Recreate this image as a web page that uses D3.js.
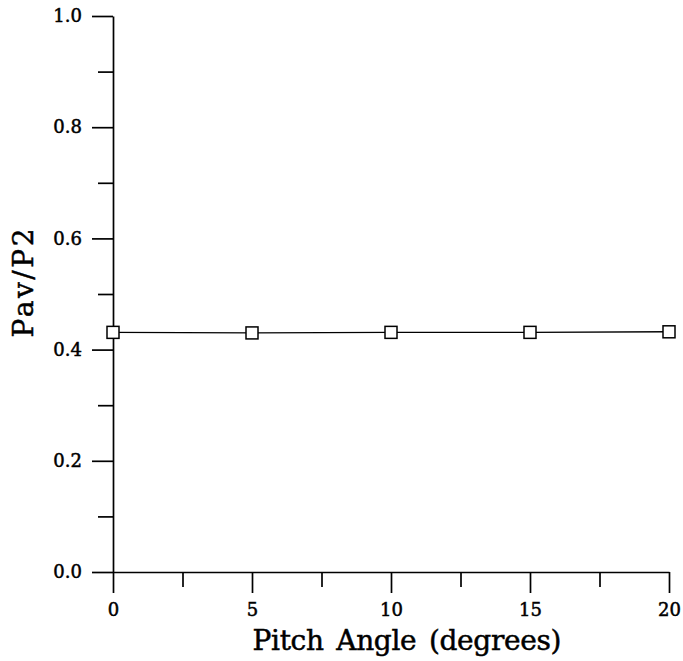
<!DOCTYPE html>
<html>
<head>
<meta charset="utf-8">
<script src="https://cdn.jsdelivr.net/npm/d3@7"></script>
<style>
  html, body { margin: 0; padding: 0; background: #fff; }
  svg { display: block; }
  text { font-family: "DejaVu Serif", serif; fill: #000; }
</style>
</head>
<body>
<svg id="chart" width="683" height="661"></svg>
<script>
// ---- data ----
const pitchAngles = [0, 5, 10, 15, 20];
const pavOverP2   = [0.431, 0.430, 0.431, 0.431, 0.432];
const xMajorTicks = [0, 5, 10, 15, 20];
const xMinorTicks = [2.5, 7.5, 12.5, 17.5];
const yMajorTicks = [0.0, 0.2, 0.4, 0.6, 0.8, 1.0];
const yMinorTicks = [0.1, 0.3, 0.5, 0.7, 0.9];
const xTitle = "Pitch Angle (degrees)";
const yTitle = "Pav/P2";

// ---- layout ----
const svg = d3.select("#chart");
const x = d3.scaleLinear().domain([0, 20]).range([113, 669]);
const y = d3.scaleLinear().domain([0, 1]).range([572, 16]);

// minor ticks
svg.append("g")
  .attr("transform", `translate(0,${y(0)})`)
  .call(d3.axisBottom(x).tickValues(xMinorTicks).tickSize(15).tickSizeOuter(0).tickFormat(""))
  .call(g => g.select(".domain").remove());
svg.append("g")
  .attr("transform", `translate(${x(0)},0)`)
  .call(d3.axisLeft(y).tickValues(yMinorTicks).tickSize(15).tickSizeOuter(0).tickFormat(""))
  .call(g => g.select(".domain").remove());

// major axes
svg.append("g")
  .attr("transform", `translate(0,${y(0)})`)
  .call(d3.axisBottom(x).tickValues(xMajorTicks).tickSize(21).tickSizeOuter(0).tickPadding(10).tickFormat(d3.format("d")));
svg.append("g")
  .attr("transform", `translate(${x(0)},0)`)
  .call(d3.axisLeft(y).tickValues(yMajorTicks).tickSize(21).tickSizeOuter(0).tickPadding(10).tickFormat(d3.format(".1f")));

svg.selectAll(".tick line").attr("stroke", "#000").attr("stroke-width", 1.7);
svg.selectAll(".domain").attr("stroke", "#000").attr("stroke-width", 1.7);
svg.selectAll(".tick text")
  .attr("font-family", "DejaVu Serif")
  .attr("font-size", 18)
  .attr("fill", "#000")
  .attr("stroke", "#000")
  .attr("stroke-width", 0.5);

// line
const pts = pitchAngles.map((a, i) => [a, pavOverP2[i]]);
svg.append("path")
  .datum(pts)
  .attr("fill", "none")
  .attr("stroke", "#000")
  .attr("stroke-width", 1.4)
  .attr("d", d3.line().x(d => x(d[0])).y(d => y(d[1])));

// markers
const s = 12;
svg.selectAll("rect.marker")
  .data(pts)
  .enter().append("rect")
  .attr("class", "marker")
  .attr("x", d => x(d[0]) - s / 2)
  .attr("y", d => y(d[1]) - s / 2)
  .attr("width", s)
  .attr("height", s)
  .attr("fill", "#fff")
  .attr("stroke", "#000")
  .attr("stroke-width", 1.5);

// titles
svg.append("text")
  .attr("x", 407)
  .attr("y", 650)
  .attr("text-anchor", "middle")
  .attr("font-size", 28)
  .attr("word-spacing", 4)
  .attr("stroke", "#000")
  .attr("stroke-width", 0.5)
  .attr("textLength", 309)
  .attr("lengthAdjust", "spacing")
  .text(xTitle);

svg.append("text")
  .attr("transform", "translate(33,283) rotate(-90)")
  .attr("text-anchor", "middle")
  .attr("font-size", 28)
  .attr("stroke", "#000")
  .attr("stroke-width", 0.5)
  .attr("textLength", 109)
  .attr("lengthAdjust", "spacing")
  .text(yTitle);
</script>
</body>
</html>
